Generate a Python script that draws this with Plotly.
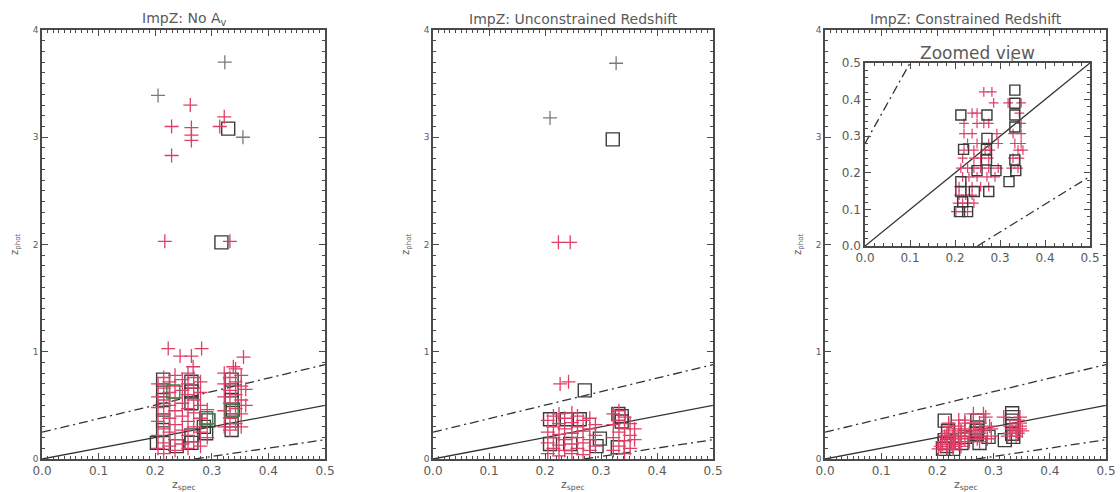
import plotly.graph_objects as go

# ---------------- data ----------------
# Panel 1: ImpZ: No Av
p1_gray_x = [0.323, 0.205, 0.355]
p1_gray_y = [3.70, 3.39, 3.00]
p1_red_x = [0.262, 0.229, 0.264, 0.264, 0.264, 0.322, 0.314, 0.229, 0.217, 0.332,
            0.223, 0.282, 0.244, 0.264, 0.267, 0.356, 0.338,
            0.205, 0.205, 0.205, 0.205, 0.205, 0.205,
            0.215, 0.215, 0.215, 0.215, 0.215, 0.215, 0.215,
            0.225, 0.225, 0.225, 0.225, 0.225, 0.225,
            0.235, 0.235, 0.235, 0.235, 0.235, 0.235, 0.235,
            0.248, 0.248, 0.248, 0.248, 0.248, 0.248,
            0.258, 0.258, 0.258, 0.258, 0.258, 0.258, 0.258,
            0.268, 0.268, 0.268, 0.268, 0.268, 0.268,
            0.280, 0.280, 0.280, 0.280, 0.280, 0.280,
            0.292, 0.292, 0.292,
            0.322, 0.322, 0.322, 0.322, 0.322,
            0.332, 0.332, 0.332, 0.332, 0.332,
            0.342, 0.342, 0.342, 0.342, 0.342,
            0.352, 0.352, 0.352, 0.352, 0.352,
            0.360, 0.360]
p1_red_y = [3.30, 3.10, 3.09, 3.02, 2.97, 3.19, 3.10, 2.83, 2.03, 2.03,
            1.03, 1.03, 0.96, 0.96, 0.86, 0.95, 0.86,
            0.10, 0.22, 0.35, 0.48, 0.58, 0.70,
            0.05, 0.15, 0.28, 0.42, 0.55, 0.66, 0.76,
            0.12, 0.25, 0.38, 0.50, 0.62, 0.72,
            0.08, 0.18, 0.32, 0.45, 0.57, 0.68, 0.78,
            0.14, 0.27, 0.40, 0.52, 0.64, 0.74,
            0.10, 0.22, 0.35, 0.47, 0.60, 0.70, 0.80,
            0.16, 0.30, 0.43, 0.55, 0.66, 0.76,
            0.12, 0.25, 0.38, 0.50, 0.62, 0.72,
            0.20, 0.33, 0.46,
            0.30, 0.45, 0.58, 0.70, 0.80,
            0.27, 0.38, 0.52, 0.64, 0.76,
            0.33, 0.47, 0.60, 0.72, 0.84,
            0.30, 0.42, 0.55, 0.68, 0.78,
            0.50, 0.65]
p1_sq_x = [0.329, 0.317,
           0.214, 0.214, 0.214, 0.214, 0.214, 0.214, 0.214,
           0.264, 0.264, 0.264, 0.264, 0.264,
           0.294, 0.290,
           0.335, 0.335, 0.335, 0.337, 0.335, 0.335,
           0.203, 0.238, 0.286]
p1_sq_y = [3.08, 2.02,
           0.74, 0.64, 0.55, 0.46, 0.36, 0.27, 0.15,
           0.72, 0.63, 0.52, 0.22, 0.15,
           0.36, 0.24,
           0.74, 0.64, 0.55, 0.46, 0.36, 0.27,
           0.15, 0.12, 0.30]
p1_green_x = [0.232, 0.290, 0.335]
p1_green_y = [0.63, 0.38, 0.45]

# Panel 2: ImpZ: Unconstrained Redshift
p2_gray_x = [0.327, 0.209]
p2_gray_y = [3.69, 3.18]
p2_red_x = [0.224, 0.245, 0.227, 0.242,
            0.205, 0.205, 0.205, 0.205,
            0.215, 0.215, 0.215, 0.215,
            0.225, 0.225, 0.225, 0.225, 0.225,
            0.235, 0.235, 0.235, 0.235,
            0.248, 0.248, 0.248, 0.248, 0.248,
            0.258, 0.258, 0.258, 0.258,
            0.268, 0.268, 0.268, 0.268,
            0.280, 0.280, 0.280, 0.280,
            0.290, 0.290, 0.290,
            0.322, 0.322, 0.322, 0.322,
            0.332, 0.332, 0.332, 0.332,
            0.342, 0.342, 0.342, 0.342,
            0.352, 0.352, 0.352,
            0.360, 0.360]
p2_red_y = [2.02, 2.02, 0.70, 0.72,
            0.05, 0.15, 0.25, 0.36,
            0.10, 0.20, 0.30, 0.40,
            0.03, 0.13, 0.23, 0.33, 0.42,
            0.08, 0.18, 0.28, 0.38,
            0.05, 0.14, 0.24, 0.34, 0.43,
            0.10, 0.20, 0.30, 0.40,
            0.04, 0.15, 0.26, 0.36,
            0.08, 0.18, 0.28, 0.38,
            0.12, 0.22, 0.32,
            0.08, 0.20, 0.32, 0.42,
            0.12, 0.25, 0.36, 0.45,
            0.05, 0.17, 0.28, 0.39,
            0.10, 0.22, 0.33,
            0.18, 0.28]
p2_sq_x = [0.321, 0.271, 0.337, 0.337, 0.292, 0.330, 0.209, 0.209, 0.239, 0.262, 0.298, 0.245, 0.331]
p2_sq_y = [2.98, 0.64, 0.40, 0.35, 0.12, 0.11, 0.37, 0.14, 0.37, 0.37, 0.19, 0.14, 0.42]

# Panel 3: ImpZ: Constrained Redshift (also shown in the zoomed inset)
p3_gray_x = [0.333]
p3_gray_y = [3.69]
p3_red_x = [0.264, 0.282,
            0.286, 0.318, 0.347,
            0.238, 0.249, 0.343,
            0.220, 0.249, 0.264, 0.275, 0.347,
            0.220, 0.238, 0.293, 0.329, 0.347,
            0.228, 0.249, 0.275, 0.296, 0.333, 0.347,
            0.220, 0.242, 0.267, 0.278, 0.340, 0.351,
            0.217, 0.242, 0.257, 0.275, 0.329, 0.343,
            0.213, 0.228, 0.242, 0.257, 0.275, 0.296, 0.325, 0.340,
            0.217, 0.231, 0.249, 0.271, 0.289,
            0.209, 0.224, 0.238, 0.257, 0.275,
            0.209, 0.224, 0.238,
            0.206, 0.217, 0.228, 0.242,
            0.202, 0.217, 0.228]
p3_red_y = [0.421, 0.421,
            0.391, 0.391, 0.391,
            0.363, 0.363, 0.363,
            0.335, 0.335, 0.335, 0.335, 0.335,
            0.307, 0.307, 0.307, 0.307, 0.307,
            0.280, 0.280, 0.280, 0.280, 0.280, 0.280,
            0.262, 0.262, 0.262, 0.262, 0.262, 0.262,
            0.240, 0.240, 0.240, 0.240, 0.240, 0.240,
            0.213, 0.213, 0.213, 0.213, 0.213, 0.213, 0.213, 0.213,
            0.189, 0.189, 0.189, 0.189, 0.189,
            0.162, 0.162, 0.162, 0.162, 0.162,
            0.139, 0.139, 0.139,
            0.117, 0.117, 0.117, 0.117,
            0.094, 0.094, 0.094]
p3_sq_x = [0.213, 0.271, 0.333, 0.333, 0.333, 0.333, 0.271, 0.219, 0.270, 0.270, 0.333,
           0.291, 0.335, 0.320, 0.213, 0.249, 0.275, 0.243, 0.213, 0.217, 0.228, 0.210]
p3_sq_y = [0.358, 0.358, 0.426, 0.390, 0.358, 0.325, 0.294, 0.264, 0.264, 0.235, 0.235,
           0.206, 0.206, 0.176, 0.176, 0.206, 0.149, 0.149, 0.149, 0.121, 0.094, 0.094]

# reference lines
one_x = [0.0, 0.5]
one_y = [0.0, 0.5]
upper_x = [0.0, 0.5]
upper_y = [0.25, 0.88]
lower_x = [0.27, 0.5]
lower_y = [0.0, 0.18]
inset_upper_x = [0.0, 0.10]
inset_upper_y = [0.28, 0.50]
inset_lower_x = [0.25, 0.5]
inset_lower_y = [0.0, 0.19]

x_ticks = [0.0, 0.1, 0.2, 0.3, 0.4, 0.5]
x_ticktext = ["0.0", "0.1", "0.2", "0.3", "0.4", "0.5"]
y_ticks = [0, 1, 2, 3, 4]
y_ticktext = ["0", "1", "2", "3", "4"]
titles = ["ImpZ: No A<sub>v</sub>", "ImpZ: Unconstrained Redshift", "ImpZ: Constrained Redshift"]

# ---------------- style / layout ----------------
W, H = 1120, 492
RED = "#df3f66"
SQ = "#3b3b3b"
GRAY = "#7a7a7a"
GREEN = "#3f7f46"
AX = "#4a4a4a"
TXT = "#5a5a5a"
FONT = "DejaVu Sans"
DASHDOT = "9px,4px,2px,4px"

panels_px = [(42, 325), (433, 713), (825, 1106)]
top_px, bot_px = 30, 459
inset_px = (865, 1090, 63, 246)

fig = go.Figure()

def cross(x, y, xa, ya, color, size=10, width=1.3):
    fig.add_trace(go.Scatter(x=x, y=y, mode="markers", xaxis=xa, yaxis=ya,
                             marker=dict(symbol="cross-thin", size=size,
                                         line=dict(color=color, width=width)),
                             showlegend=False, hoverinfo="skip"))

def square(x, y, xa, ya, color, size=13, width=1.4):
    fig.add_trace(go.Scatter(x=x, y=y, mode="markers", xaxis=xa, yaxis=ya,
                             marker=dict(symbol="square-open", size=size, color=color,
                                         line=dict(color=color, width=width)),
                             showlegend=False, hoverinfo="skip"))

def line(x, y, xa, ya, dash="solid"):
    fig.add_trace(go.Scatter(x=x, y=y, mode="lines", xaxis=xa, yaxis=ya,
                             line=dict(color="#333333", width=1.3, dash=dash),
                             showlegend=False, hoverinfo="skip"))

datasets = [
    (p1_gray_x, p1_gray_y, p1_red_x, p1_red_y, p1_sq_x, p1_sq_y),
    (p2_gray_x, p2_gray_y, p2_red_x, p2_red_y, p2_sq_x, p2_sq_y),
    (p3_gray_x, p3_gray_y, p3_red_x, p3_red_y, p3_sq_x, p3_sq_y),
]

for i, (gx, gy, rx, ry, sx, sy) in enumerate(datasets):
    xa = "x" if i == 0 else f"x{i+1}"
    ya = "y" if i == 0 else f"y{i+1}"
    line(one_x, one_y, xa, ya)
    line(upper_x, upper_y, xa, ya, DASHDOT)
    line(lower_x, lower_y, xa, ya, DASHDOT)
    square(sx, sy, xa, ya, SQ)
    cross(rx, ry, xa, ya, RED)
    cross(gx, gy, xa, ya, GRAY)
    if i == 0:
        square(p1_green_x, p1_green_y, xa, ya, GREEN)

# inset
line(one_x, one_y, "x4", "y4")
line(inset_upper_x, inset_upper_y, "x4", "y4", DASHDOT)
line(inset_lower_x, inset_lower_y, "x4", "y4", DASHDOT)
cross(p3_red_x, p3_red_y, "x4", "y4", RED, size=7, width=1.2)
square(p3_sq_x, p3_sq_y, "x4", "y4", SQ, size=10, width=1.4)

def xaxis_cfg(x0, x1, anchor, fsize=12, mdt=0.01):
    return dict(domain=[x0 / W, x1 / W], range=[0, 0.5], anchor=anchor, automargin=False,
                tickvals=x_ticks, ticktext=x_ticktext, ticks="inside", ticklen=6,
                tickwidth=1, tickcolor=AX, mirror="allticks", showline=True,
                linecolor=AX, linewidth=1.5, showgrid=False, zeroline=False,
                tickfont=dict(family=FONT, size=fsize, color=TXT),
                minor=dict(ticks="inside", dtick=mdt, ticklen=3, tickcolor=AX, showgrid=False))

def yaxis_cfg(anchor, rng, dtick_minor, tv, tt, y0, y1, fsize):
    return dict(domain=[1 - y1 / H, 1 - y0 / H], range=rng, anchor=anchor, automargin=False,
                tickvals=tv, ticktext=tt, ticks="inside", ticklen=6,
                tickwidth=1, tickcolor=AX, mirror="allticks", showline=True,
                linecolor=AX, linewidth=1.5, showgrid=False, zeroline=False,
                tickfont=dict(family=FONT, size=fsize, color=TXT),
                minor=dict(ticks="inside", dtick=dtick_minor, ticklen=3, tickcolor=AX, showgrid=False))

layout = dict(width=W, height=H, margin=dict(l=0, r=0, t=0, b=0, pad=0, autoexpand=False),
              paper_bgcolor="white", plot_bgcolor="white", showlegend=False)

for i, (x0, x1) in enumerate(panels_px):
    xk = "xaxis" if i == 0 else f"xaxis{i+1}"
    yk = "yaxis" if i == 0 else f"yaxis{i+1}"
    xa = "x" if i == 0 else f"x{i+1}"
    ya = "y" if i == 0 else f"y{i+1}"
    layout[xk] = xaxis_cfg(x0, x1, ya)
    layout[yk] = yaxis_cfg(xa, [0, 4], 0.1, y_ticks, y_ticktext, top_px, bot_px, 9)

ix0, ix1, iy0, iy1 = inset_px
layout["xaxis4"] = xaxis_cfg(ix0, ix1, "y4", fsize=12, mdt=0.02)
layout["yaxis4"] = yaxis_cfg("x4", [0, 0.5], 0.02, x_ticks, x_ticktext, iy0, iy1, 12)

fig.update_layout(**layout)

annotations = []
for i, (x0, x1) in enumerate(panels_px):
    cx = (x0 + x1) / 2
    annotations.append(dict(text=titles[i], x=cx / W, y=1 - 19 / H, xref="paper", yref="paper",
                            showarrow=False, font=dict(family=FONT, size=14, color=TXT),
                            xanchor="center", yanchor="middle"))
    annotations.append(dict(text="z<sub>spec</sub>", x=cx / W, y=1 - 485 / H, xref="paper", yref="paper",
                            showarrow=False, font=dict(family=FONT, size=11, color=TXT),
                            xanchor="center", yanchor="middle"))
    annotations.append(dict(text="z<sub>phot</sub>", x=(x0 - 27) / W, y=1 - 245 / H, xref="paper", yref="paper",
                            showarrow=False, textangle=-90, font=dict(family=FONT, size=10, color=TXT),
                            xanchor="center", yanchor="middle"))
annotations.append(dict(text="Zoomed view", x=977 / W, y=1 - 53 / H, xref="paper", yref="paper",
                        showarrow=False, font=dict(family=FONT, size=17, color=TXT),
                        xanchor="center", yanchor="middle"))
fig.update_layout(annotations=annotations)

fig.write_html("out.html", config={"displayModeBar": False},
               post_script="document.body.style.margin='0px'; document.body.style.overflow='hidden';")
